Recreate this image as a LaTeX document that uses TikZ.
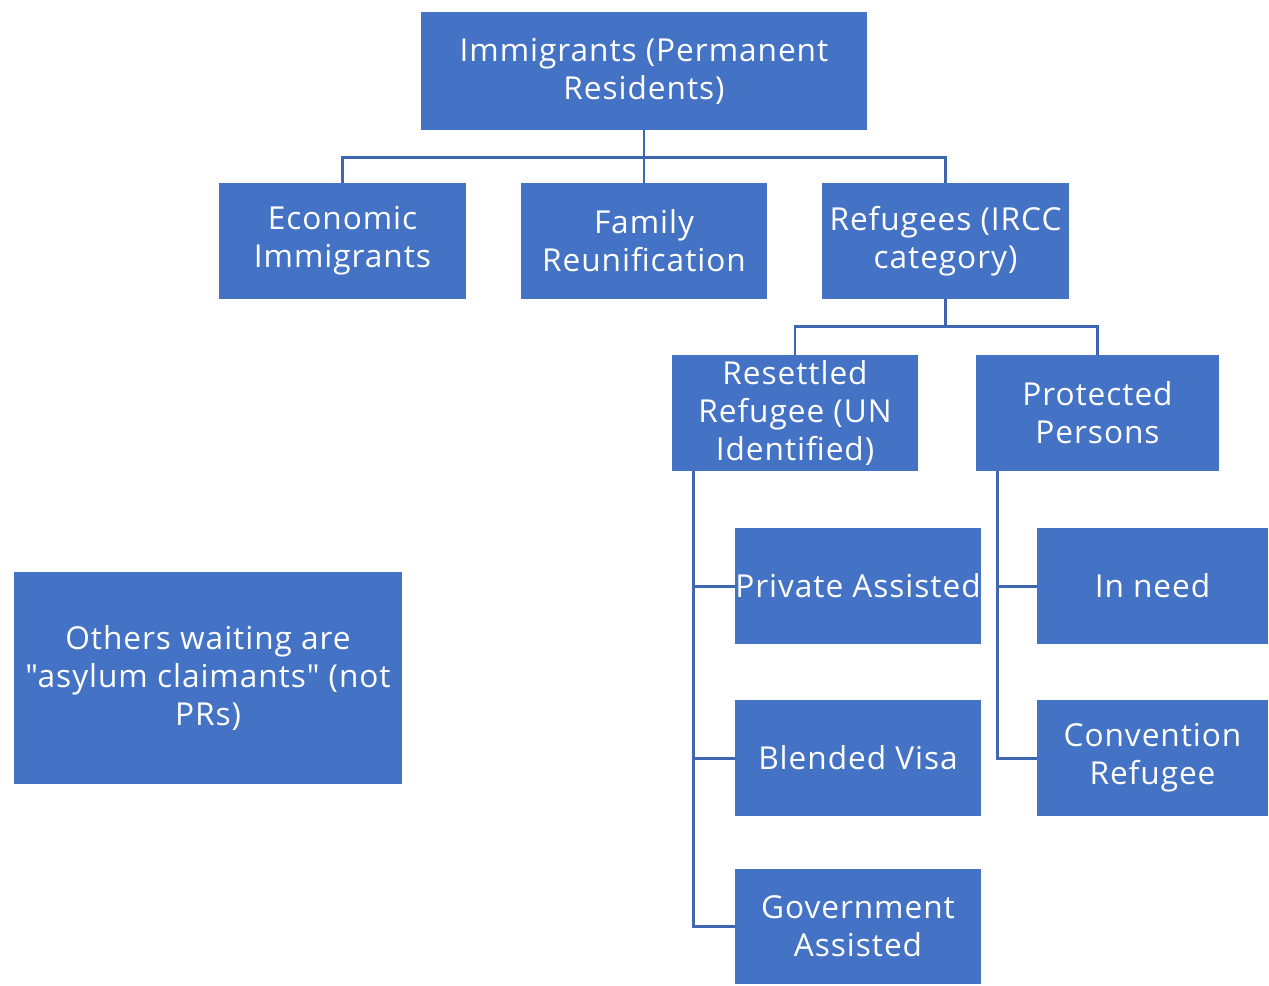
\documentclass[tikz,border=0pt]{standalone}
\usepackage{fontspec}
\setmainfont{Open Sans}[Ligatures=TeXOff, LetterSpace=3]
\usetikzlibrary{calc}
\definecolor{boxblue}{HTML}{4472C4}
\definecolor{linkblue}{HTML}{3F67B1}
\tikzset{
  box/.style={fill=boxblue, draw=none, text=white, inner sep=0pt, align=center,
    font=\fontsize{18}{21.6}\selectfont, minimum height=2.32cm},
  conn/.style={draw=linkblue, line width=1.7pt}
}
\begin{document}
\begin{tikzpicture}[x=0.02cm,y=-0.02cm]
\useasboundingbox (0,0) rectangle (1269,985);
\node[box, minimum width=8.92cm, minimum height=2.36cm] (top) at (644,71) {Immigrants (Permanent\\Residents)};
\node[box, minimum width=4.94cm] (econ) at (342.5,241) {Economic\\Immigrants};
\node[box, minimum width=4.92cm] (fam) at (644,241) {Family\\Reunification};
\node[box, minimum width=4.94cm] (ref) at (945.5,241) {Refugees (IRCC\\category)};
\node[box, minimum width=4.92cm] (res) at (795,413) {Resettled\\Refugee (UN\\Identified)};
\node[box, minimum width=4.86cm] (prot) at (1097.5,413) {Protected\\Persons};
\node[box, minimum width=4.92cm] (priv) at (858,586) {Private Assisted};
\node[box, minimum width=4.62cm] (need) at (1152.5,586) {In need};
\node[box, minimum width=4.92cm] (blend) at (858,758) {Blended Visa};
\node[box, minimum width=4.62cm] (conv) at (1152.5,758) {Convention\\Refugee};
\node[box, minimum width=4.92cm, minimum height=2.3cm] (gov) at (858,926.5) {Government\\Assisted};
\node[box, minimum width=7.76cm, minimum height=4.24cm] (oth) at (208,678) {Others waiting are\\"asylum claimants" (not\\PRs)};

\draw[conn] (top.south) |- ($(econ.north)+(0,-25)$) -- (econ.north);
\draw[conn] (top.south) -- (fam.north);
\draw[conn] (top.south) |- ($(ref.north)+(0,-25)$) -- (ref.north);

\draw[conn] (ref.south) |- ($(res.north)+(0,-28)$) -- (res.north);
\draw[conn] (ref.south) |- ($(prot.north)+(0,-28)$) -- (prot.north);

\coordinate (rs) at ($(res.south west)+(22,0)$);
\draw[conn] (rs) |- (priv.west);
\draw[conn] (rs) |- (blend.west);
\draw[conn] (rs) |- (gov.west);

\coordinate (ps) at ($(prot.south west)+(22,0)$);
\draw[conn] (ps) |- (need.west);
\draw[conn] (ps) |- (conv.west);
\end{tikzpicture}
\end{document}
